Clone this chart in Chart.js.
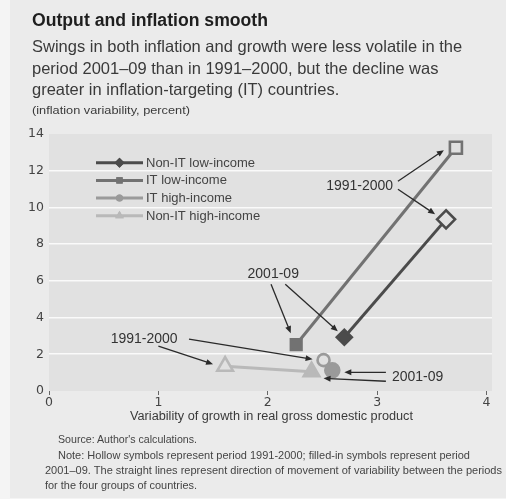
<!DOCTYPE html>
<html>
<head>
<meta charset="utf-8">
<script src="https://cdn.jsdelivr.net/npm/chart.js@4/dist/chart.umd.min.js"></script>
<style>
  html, body { margin:0; padding:0; background:#f4f4f4; }
  #wrap { position:relative; width:506px; height:499px; overflow:hidden; }
  #panel { position:absolute; left:10px; top:0; width:496px; height:498px; background:#ebebeb; }
  canvas { position:absolute; left:0; top:0; }
  .t { position:absolute; white-space:nowrap; line-height:1; font-family:"Liberation Sans", Arial, sans-serif; transform-origin:0 0; }
</style>
</head>
<body>
<div id="wrap">
  <div id="panel"></div>
  <canvas id="c" width="506" height="499"></canvas>
  <div class="t" data-l="32" data-b="26" data-w="236" data-fs="18" style="font-weight:bold;color:#1e1e1e">Output and inflation smooth</div>
  <div class="t" data-l="32" data-b="52" data-fs="16.5" style="color:#3a3a3a">Swings in both inflation and growth were less volatile in the</div>
  <div class="t" data-l="32" data-b="73.5" data-fs="16.5" style="color:#3a3a3a">period 2001–09 than in 1991–2000, but the decline was</div>
  <div class="t" data-l="32" data-b="95" data-fs="16.5" style="color:#3a3a3a">greater in inflation-targeting (IT) countries.</div>
  <div class="t" data-l="32" data-b="114" data-w="158" data-fs="10.5" style="color:#3a3a3a">(inflation variability, percent)</div>
  <div class="t" data-l="130" data-b="421" data-w="283" data-fs="12.5" style="color:#3a3a3a">Variability of growth in real gross domestic product</div>
  <div class="t" data-l="58" data-b="443" data-w="139" data-fs="10.5" style="color:#444">Source: Author's calculations.</div>
  <div class="t" data-l="58" data-b="458.5" data-w="412" data-fs="10.5" style="color:#444">Note: Hollow symbols represent period 1991-2000; filled-in symbols represent period</div>
  <div class="t" data-l="45" data-b="473.5" data-w="457" data-fs="10.5" style="color:#444">2001–09. The straight lines represent direction of movement of variability between the periods</div>
  <div class="t" data-l="45" data-b="488.5" data-w="152" data-fs="10.5" style="color:#444">for the four groups of countries.</div>
</div>
<script>
// ---- Data ----
const periods = ['1991–2000', '2001–09'];
const groupNames = ['Non-IT low-income', 'IT low-income', 'IT high-income', 'Non-IT high-income'];
// growth variability (x) and inflation variability (y): [1991–2000, 2001–09]
const nonItLowGrowth = [3.63, 2.70];
const nonItLowInfl   = [9.35, 2.93];
const itLowGrowth    = [3.72, 2.26];
const itLowInfl      = [13.25, 2.53];
const itHighGrowth   = [2.51, 2.59];
const itHighInfl     = [1.68, 1.13];
const nonItHighGrowth = [1.61, 2.40];
const nonItHighInfl   = [1.35, 1.05];
const xTickValues = [0, 1, 2, 3, 4];
const yTickValues = [0, 2, 4, 6, 8, 10, 12, 14];

// annotation labels (in data units) and arrows
const annotationLabels = ['1991-2000', '2001-09', '1991-2000', '2001-09'];
const annotationX = [2.84, 2.05, 0.87, 3.37];
const annotationY = [11.17, 6.36, 2.82, 0.75];
const arrowFromX = [[3.19, 3.19], [2.03, 2.16], [1.00, 1.28], [3.08, 3.08]];
const arrowFromY = [[11.43, 10.99], [5.81, 5.81], [2.44, 2.82], [1.02, 0.53]];
const arrowToX   = [[3.61, 3.53], [2.21, 2.64], [1.50, 2.41], [2.70, 2.51]];
const arrowToY   = [[13.12, 9.63], [3.15, 3.25], [1.46, 1.73], [1.02, 0.69]];

// ---- place / fit HTML text ----
document.querySelectorAll('.t').forEach(el => {
  const fs = parseFloat(el.dataset.fs);
  el.style.fontSize = fs + 'px';
  el.style.left = el.dataset.l + 'px';
  el.style.top = (parseFloat(el.dataset.b) - 0.8465 * fs) + 'px';
  if (el.dataset.w) {
    const w = el.getBoundingClientRect().width;
    el.style.transform = 'scaleX(' + (parseFloat(el.dataset.w) / w) + ')';
  }
});

const PLOT_BG = '#e1e1e1';
const colors = ['#4b4b4b', '#727272', '#9a9a9a', '#b9b9b9'];
const styles = ['rectRot', 'rect', 'circle', 'triangle'];
const radii = [[9, 7.5], [8.5, 7.5], [6, 7], [9, 9]];
const xs = [nonItLowGrowth, itLowGrowth, itHighGrowth, nonItHighGrowth];
const ys = [nonItLowInfl, itLowInfl, itHighInfl, nonItHighInfl];

const datasets = groupNames.map((name, i) => ({
  label: name,
  data: xs[i].map((x, j) => ({ x: x, y: ys[i][j] })),
  borderColor: colors[i],
  borderWidth: 3,
  pointStyle: styles[i],
  pointRadius: radii[i],
  pointBorderWidth: 2.6,
  pointBorderColor: colors[i],
  pointBackgroundColor: [PLOT_BG, colors[i]],
  showLine: true,
  fill: false,
  tension: 0
}));

const bgPlugin = {
  id: 'plotbg',
  beforeDraw(chart) {
    const a = chart.chartArea, ctx = chart.ctx;
    ctx.save();
    ctx.fillStyle = PLOT_BG;
    ctx.fillRect(a.left, a.top, a.right - a.left, a.bottom - a.top);
    ctx.restore();
  }
};

function arrow(ctx, x1, y1, x2, y2) {
  const ang = Math.atan2(y2 - y1, x2 - x1);
  const L = 7, W = 3;
  ctx.beginPath();
  ctx.moveTo(x1, y1);
  ctx.lineTo(x2 - Math.cos(ang) * L * 0.8, y2 - Math.sin(ang) * L * 0.8);
  ctx.stroke();
  ctx.beginPath();
  ctx.moveTo(x2, y2);
  ctx.lineTo(x2 - Math.cos(ang) * L - Math.sin(ang) * W, y2 - Math.sin(ang) * L + Math.cos(ang) * W);
  ctx.lineTo(x2 - Math.cos(ang) * L + Math.sin(ang) * W, y2 - Math.sin(ang) * L - Math.cos(ang) * W);
  ctx.closePath();
  ctx.fill();
}

const annotPlugin = {
  id: 'annot',
  afterDatasetsDraw(chart) {
    const ctx = chart.ctx, sx = chart.scales.x, sy = chart.scales.y;
    ctx.save();
    ctx.strokeStyle = '#2a2a2a';
    ctx.fillStyle = '#2a2a2a';
    ctx.lineWidth = 1.3;
    annotationLabels.forEach((lab, i) => {
      for (let k = 0; k < 2; k++) {
        arrow(ctx, sx.getPixelForValue(arrowFromX[i][k]), sy.getPixelForValue(arrowFromY[i][k]),
                   sx.getPixelForValue(arrowToX[i][k]), sy.getPixelForValue(arrowToY[i][k]));
      }
      ctx.font = '14px "Liberation Sans", Arial, sans-serif';
      ctx.fillStyle = '#333';
      ctx.textAlign = 'center';
      ctx.textBaseline = 'middle';
      ctx.fillText(lab, sx.getPixelForValue(annotationX[i]), sy.getPixelForValue(annotationY[i]));
      ctx.fillStyle = '#2a2a2a';
    });
    ctx.restore();
  }
};

const legendPlugin = {
  id: 'customLegend',
  afterDraw(chart) {
    const ctx = chart.ctx, a = chart.chartArea;
    const x0 = a.left + 47, x1 = a.left + 94, tx = a.left + 97;
    const legR = [5, 4.5, 3.5, 5];
    ctx.save();
    groupNames.forEach((name, i) => {
      const y = a.top + 28.7 + i * 17.7;
      ctx.strokeStyle = colors[i];
      ctx.lineWidth = 3;
      ctx.beginPath(); ctx.moveTo(x0, y); ctx.lineTo(x1, y); ctx.stroke();
      ctx.fillStyle = colors[i];
      Chart.helpers.drawPoint(ctx, { pointStyle: styles[i], radius: legR[i], borderWidth: 0 }, (x0 + x1) / 2, y);
      ctx.fill();
      ctx.fillStyle = '#444';
      ctx.font = '13px "Liberation Sans", Arial, sans-serif';
      ctx.textAlign = 'left';
      ctx.textBaseline = 'middle';
      ctx.fillText(name, tx, y + 0.5);
    });
    ctx.restore();
  }
};

new Chart(document.getElementById('c'), {
  type: 'scatter',
  data: { datasets },
  plugins: [bgPlugin, annotPlugin, legendPlugin],
  options: {
    responsive: false,
    animation: false,
    layout: { padding: { top: 134, left: 0, right: 14, bottom: 78 } },
    plugins: { legend: { display: false }, tooltip: { enabled: false } },
    scales: {
      x: {
        type: 'linear', min: 0, max: 4.05,
        afterBuildTicks: s => { s.ticks = xTickValues.map(v => ({ value: v })); },
        afterFit: s => { s.height = 30; },
        border: { display: false },
        grid: { drawOnChartArea: false, drawTicks: true, tickLength: 4, color: '#666', lineWidth: 1 },
        ticks: { color: '#444', padding: 0, font: { family: 'DejaVu Sans', size: 12.5 }, maxRotation: 0 }
      },
      y: {
        type: 'linear', min: 0, max: 14,
        afterBuildTicks: s => { s.ticks = yTickValues.map(v => ({ value: v })); },
        afterFit: s => { s.width = 49; },
        border: { display: false },
        grid: {
          drawTicks: false,
          lineWidth: 1.6,
          color: c => (c.tick && (c.tick.value === 0 || c.tick.value === 14)) ? 'rgba(0,0,0,0)' : '#fafafa'
        },
        ticks: { color: '#444', padding: 5, font: { family: 'DejaVu Sans', size: 12.5 } }
      }
    }
  }
});
</script>
</body>
</html>
